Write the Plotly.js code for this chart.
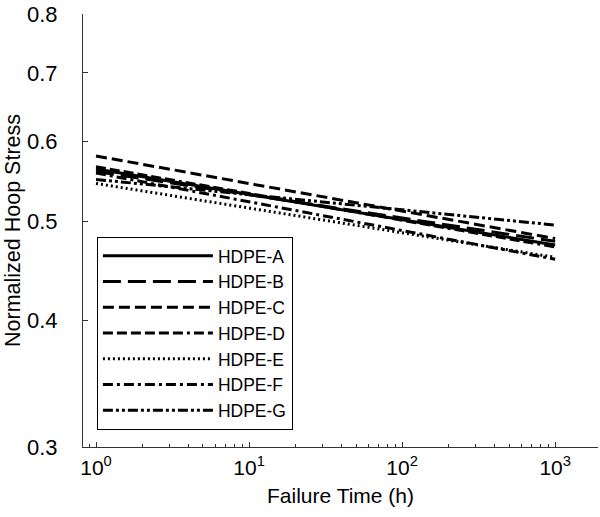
<!DOCTYPE html>
<html>
<head>
<meta charset="utf-8">
<script src="https://cdn.plot.ly/plotly-3.0.1.min.js"></script>
<style>html,body{margin:0;padding:0;background:#fff;}#chart{width:600px;height:517px;}</style>
</head>
<body>
<div id="chart"></div>
<script>
const failureTime = [1, 1000];
const seriesNames = ["HDPE-A", "HDPE-B", "HDPE-C", "HDPE-D", "HDPE-E", "HDPE-F", "HDPE-G"];
const hdpeA = [0.563, 0.474];
const hdpeB = [0.560, 0.478];
const hdpeC = [0.580, 0.481];
const hdpeD = [0.566, 0.472];
const hdpeE = [0.545, 0.461];
const hdpeF = [0.558, 0.459];
const hdpeG = [0.550, 0.496];
const xTicks = [1, 10, 100, 1000];
const xTickText = ["10<sup>0</sup>", "10<sup>1</sup>", "10<sup>2</sup>", "10<sup>3</sup>"];
const yTicks = [0.3, 0.4, 0.5, 0.6, 0.7, 0.8];
const yTickText = ["0.3", "0.4", "0.5", "0.6", "0.7", "0.8"];

const seriesValues = [hdpeA, hdpeB, hdpeC, hdpeD, hdpeE, hdpeF, hdpeG];
const dashes = ["solid", "18px,7px", "11px,5px", "10px,4px,10px,4px,10px,4px,10px,4px,10px,4px,10px,4px,3px,4px", "2px,3px", "10px,4px,3px,4px", "10px,3px,3px,3px,3px,3px"];

const traces = seriesNames.map((n, i) => ({
  x: failureTime,
  y: seriesValues[i],
  name: n,
  mode: "lines",
  type: "scatter",
  line: {color: "#000", width: 3, dash: dashes[i]}
}));

const layout = {
  width: 600, height: 517,
  margin: {l: 83, r: 2, t: 14, b: 70},
  paper_bgcolor: "#fff", plot_bgcolor: "#fff",
  font: {family: "Liberation Sans, Arial, sans-serif", size: 17, color: "#000"},
  showlegend: true,
  legend: {
    x: 0.027, y: 0.485, xanchor: "left", yanchor: "top",
    bgcolor: "#fff", bordercolor: "#000", borderwidth: 1,
    font: {size: 17.5}, itemwidth: 110, tracegroupgap: 0
  },
  xaxis: {
    type: "log", range: [-0.085, 3.28],
    showline: true, linecolor: "#333", linewidth: 1,
    ticks: "inside", ticklen: 5, tickcolor: "#333",
    tickvals: xTicks, ticktext: xTickText, showgrid: false, zeroline: false,
    minor: {ticks: "inside", ticklen: 3, tickcolor: "#333", showgrid: false, dtick: "D1"},
    title: {text: "Failure Time (h)", font: {size: 21}, standoff: 10},
    tickfont: {size: 21}, ticklabelstandoff: 2
  },
  yaxis: {
    type: "log", range: [Math.log10(0.3), Math.log10(0.8)],
    showline: true, linecolor: "#333", linewidth: 1,
    ticks: "inside", ticklen: 5, tickcolor: "#333",
    tickvals: yTicks, ticktext: yTickText, showgrid: false, zeroline: false,
    title: {text: "Normalized Hoop Stress", font: {size: 21.5}, standoff: 0},
    tickfont: {size: 22}, ticklabelstandoff: 20
  }
};

Plotly.newPlot("chart", traces, layout, {displayModeBar: false, staticPlot: true});
</script>
</body>
</html>
